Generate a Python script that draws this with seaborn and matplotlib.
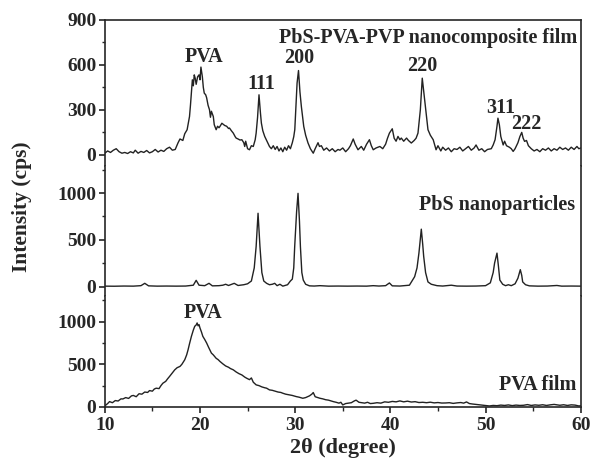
import numpy as np
import pandas as pd
import matplotlib
matplotlib.use("Agg")
import matplotlib.pyplot as plt
from matplotlib.ticker import MultipleLocator
import seaborn as sns

# DATA
comp_2theta = [10.0, 10.3, 10.6, 10.9, 11.2, 11.5, 11.8, 12.1, 12.4, 12.7, 13.0, 13.2, 13.5, 13.8, 14.1, 14.4,
               14.7, 15.0, 15.3, 15.6, 15.9, 16.2, 16.5, 16.8, 17.1, 17.4, 17.7, 17.9, 18.2, 18.4, 18.65, 18.8,
               18.9, 19.0, 19.2, 19.3, 19.4, 19.5, 19.6, 19.75, 19.9, 20.0, 20.1, 20.25, 20.35, 20.45, 20.6, 20.7,
               20.85, 21.0, 21.1, 21.2, 21.4, 21.5, 21.7, 21.85, 22.0, 22.1, 22.3, 22.4, 22.6, 22.8, 23.0, 23.1,
               23.3, 23.5, 23.7, 23.8, 24.0, 24.2, 24.4, 24.6, 24.7, 24.8, 25.0, 25.2, 25.4, 25.6, 25.8, 25.9,
               26.05, 26.2, 26.35, 26.45, 26.6, 26.8, 27.0, 27.3, 27.5, 27.7, 27.9, 28.1, 28.3, 28.5, 28.7, 28.9,
               29.1, 29.3, 29.5, 29.7, 29.85, 29.96, 30.1, 30.2, 30.35, 30.5, 30.65, 30.9, 31.1, 31.35, 31.6, 31.9,
               32.1, 32.4, 32.55, 32.75, 33.0, 33.3, 33.6, 33.9, 34.2, 34.5, 34.7, 35.0, 35.3, 35.6, 35.8, 36.1,
               36.3, 36.6, 36.95, 37.2, 37.5, 37.8, 38.0, 38.2, 38.5, 38.9, 39.2, 39.5, 39.7, 39.9, 40.2, 40.4,
               40.6, 40.8, 41.0, 41.15, 41.4, 41.7, 41.9, 42.2, 42.5, 42.7, 42.9, 43.15, 43.35, 43.6, 43.95, 44.2,
               44.5, 44.8, 45.0, 45.3, 45.5, 45.8, 46.1, 46.4, 46.7, 47.0, 47.3, 47.6, 47.9, 48.2, 48.5, 48.8,
               49.0, 49.3, 49.6, 49.9, 50.2, 50.6, 50.8, 51.0, 51.2, 51.3, 51.45, 51.6, 51.85, 52.0, 52.2, 52.5,
               52.7, 52.9, 53.1, 53.4, 53.6, 53.8, 53.95, 54.1, 54.3, 54.5, 54.8, 55.1, 55.4, 55.7, 56.0, 56.3,
               56.6, 56.9, 57.2, 57.5, 57.8, 58.1, 58.4, 58.7, 59.0, 59.3, 59.6, 59.8, 60.0]
comp_counts = [10, 25, 15, 30, 40, 20, 10, 15, 8, 20, 12, 30, 10, 22, 15, 28,
               12, 20, 35, 18, 30, 22, 40, 50, 30, 35, 80, 105, 95, 140, 167, 220,
               255, 330, 500, 460, 533, 510, 470, 520, 533, 500, 585, 520, 450, 411, 400, 380,
               330, 300, 250, 290, 255, 200, 167, 190, 180, 189, 210, 205, 195, 190, 175, 178,
               160, 144, 120, 111, 105, 98, 100, 80, 55, 90, 40, 33, 60, 55, 100, 144,
               250, 400, 280, 211, 160, 122, 95, 55, 40, 60, 35, 55, 25, 45, 20, 50,
               30, 60, 40, 80, 120, 167, 350, 478, 562, 420, 322, 189, 130, 78, 40, 10,
               40, 80, 55, 60, 30, 45, 25, 40, 20, 35, 30, 45, 20, 40, 60, 105,
               70, 33, 55, 30, 70, 100, 60, 33, 45, 55, 40, 70, 110, 144, 173, 110,
               90, 122, 100, 111, 90, 111, 95, 78, 95, 110, 144, 300, 511, 367, 167, 130,
               100, 33, 60, 25, 50, 30, 45, 20, 40, 35, 50, 25, 40, 55, 30, 45,
               65, 30, 40, 20, 35, 40, 65, 100, 190, 244, 200, 122, 65, 90, 60, 50,
               40, 22, 40, 80, 120, 149, 110, 89, 95, 60, 40, 25, 35, 20, 40, 30,
               45, 25, 40, 30, 50, 35, 45, 30, 50, 35, 55, 40, 45]

np_2theta = [10.0, 11.0, 12.0, 13.0, 13.8, 14.2, 14.6, 15.5, 16.5, 17.5, 18.5, 19.3, 19.6, 19.9, 20.5, 20.95,
             21.3, 22.0, 22.4, 22.7, 23.0, 23.6, 24.0, 24.6, 25.0, 25.4, 25.7, 25.9, 26.1, 26.3, 26.5, 26.7,
             27.0, 27.3, 27.6, 27.85, 28.1, 28.4, 28.7, 29.2, 29.5, 29.7, 29.85, 29.95, 30.15, 30.3, 30.45, 30.55,
             30.7, 30.85, 31.1, 31.5, 32.0, 32.6, 33.5, 34.5, 35.5, 36.5, 37.5, 38.2, 38.8, 39.5, 39.9, 40.2,
             41.0, 42.0, 42.55, 42.8, 43.0, 43.25, 43.4, 43.5, 43.7, 43.95, 44.3, 44.9, 45.5, 46.4, 47.0, 48.0,
             49.0, 50.0, 50.5, 50.8, 50.95, 51.2, 51.35, 51.5, 51.8, 52.1, 52.4, 52.7, 53.1, 53.4, 53.65, 53.8,
             53.9, 54.2, 54.6, 55.5, 56.5, 57.5, 58.0, 59.0, 60.0]
np_counts = [5, 4, 6, 5, 10, 35, 8, 5, 6, 5, 6, 15, 67, 15, 10, 35,
             8, 10, 15, 25, 12, 35, 12, 20, 30, 60, 200, 429, 784, 429, 150, 60,
             35, 20, 25, 35, 10, 25, 5, 20, 60, 80, 200, 429, 800, 997, 700, 429,
             150, 70, 25, 8, 6, 10, 5, 6, 5, 6, 5, 10, 6, 10, 39, 8,
             6, 15, 106, 200, 358, 614, 450, 323, 150, 50, 25, 10, 6, 15, 6, 5,
             6, 10, 40, 150, 252, 358, 220, 70, 25, 10, 20, 10, 30, 90, 181, 120,
             50, 20, 8, 5, 6, 12, 5, 6, 5]

pva_2theta = [10.0, 10.3, 10.5, 10.8, 11.1, 11.4, 11.7, 11.9, 12.2, 12.5, 12.8, 13.0, 13.3, 13.6, 13.9, 14.2,
              14.5, 14.7, 15.0, 15.2, 15.4, 15.7, 15.9, 16.1, 16.4, 16.6, 16.8, 17.1, 17.35, 17.6, 17.9, 18.1,
              18.4, 18.6, 18.75, 18.9, 19.1, 19.3, 19.45, 19.6, 19.7, 19.8, 19.9, 20.0, 20.15, 20.3, 20.5, 20.7,
              20.9, 21.2, 21.4, 21.7, 21.9, 22.1, 22.4, 22.7, 23.0, 23.2, 23.5, 23.8, 24.1, 24.4, 24.7, 24.9,
              25.2, 25.4, 25.6, 25.9, 26.2, 26.5, 26.8, 27.0, 27.3, 27.6, 27.9, 28.2, 28.5, 28.7, 29.0, 29.4,
              29.7, 30.1, 30.4, 30.8, 31.1, 31.5, 31.75, 31.9, 32.1, 32.4, 32.6, 32.9, 33.2, 33.5, 33.8, 34.0,
              34.3, 34.6, 34.8, 35.0, 35.3, 35.6, 35.9, 36.2, 36.4, 36.7, 37.0, 37.3, 37.6, 37.9, 38.2, 38.6,
              39.0, 39.4, 39.8, 40.2, 40.6, 41.0, 41.4, 41.8, 42.2, 42.6, 43.0, 43.4, 43.8, 44.2, 44.6, 45.0,
              45.4, 45.8, 46.2, 46.6, 47.0, 47.4, 47.7, 48.0, 48.3, 48.6, 49.0, 49.4, 49.8, 50.1, 50.4, 50.8,
              51.2, 51.6, 52.0, 52.4, 52.8, 53.2, 53.6, 54.0, 54.4, 54.8, 55.2, 55.6, 56.0, 56.4, 56.8, 57.2,
              57.4, 57.8, 58.2, 58.6, 59.0, 59.4, 59.8, 60.0]
pva_counts = [12, 40, 63, 50, 75, 70, 95, 94, 110, 100, 130, 135, 120, 155, 150, 175,
              170, 192, 185, 210, 220, 215, 250, 278, 300, 330, 357, 400, 435, 460, 475, 500,
              553, 610, 670, 740, 827, 900, 945, 960, 984, 950, 965, 925, 880, 827, 790, 749,
              700, 631, 610, 570, 555, 533, 505, 480, 465, 450, 435, 410, 390, 375, 350, 337,
              320, 340, 290, 259, 250, 235, 225, 220, 200, 195, 185, 175, 170, 161, 150, 141,
              135, 122, 115, 102, 110, 130, 150, 169, 120, 110, 102, 95, 85, 80, 70, 63,
              55, 45, 55, 24, 40, 45, 50, 70, 80, 55, 50, 45, 55, 40, 43, 50,
              45, 60, 55, 65, 60, 71, 60, 68, 58, 62, 52, 55, 50, 56, 48, 52,
              46, 47, 50, 42, 48, 52, 45, 59, 40, 35, 30, 25, 20, 15, 12, 18,
              15, 22, 18, 24, 16, 22, 18, 20, 28, 18, 24, 20, 26, 18, 25, 30,
              27, 20, 26, 18, 25, 22, 12, 14]

top_peaks = ["PVA", "111", "200", "220", "311", "222"]
top_peak_pos = [(20.4, 655), (26.45, 472), (30.4, 645), (43.4, 592), (51.6, 312), (54.3, 207)]

df_comp = pd.DataFrame({"two_theta": comp_2theta, "counts": comp_counts})
df_np = pd.DataFrame({"two_theta": np_2theta, "counts": np_counts})
df_pva = pd.DataFrame({"two_theta": pva_2theta, "counts": pva_counts})

# STYLE
sns.set_style("ticks")
plt.rcParams["font.family"] = ["Liberation Serif", "DejaVu Serif"]
plt.rcParams["font.weight"] = "bold"
plt.rcParams["axes.linewidth"] = 1.2

fig = plt.figure(figsize=(5.92, 4.63), dpi=100)
gs = fig.add_gridspec(3, 1, height_ratios=[146, 130, 111], hspace=0,
                      left=0.177, right=0.981, bottom=0.121, top=0.957)
ax1 = fig.add_subplot(gs[0])
ax2 = fig.add_subplot(gs[1], sharex=ax1)
ax3 = fig.add_subplot(gs[2], sharex=ax1)

line_kw = dict(x="two_theta", y="counts", color="#222222", linewidth=1.0, estimator=None, sort=False)
sns.lineplot(data=df_comp, ax=ax1, **line_kw)
sns.lineplot(data=df_np, ax=ax2, **line_kw)
sns.lineplot(data=df_pva, ax=ax3, **line_kw)

ax1.set_ylim(-75, 900)
ax2.set_ylim(-100, 1290)
ax3.set_ylim(0, 1300)
ax3.set_xlim(10, 60)

ax1.yaxis.set_major_locator(MultipleLocator(300))
ax1.yaxis.set_minor_locator(MultipleLocator(150))
for ax in (ax2, ax3):
    ax.yaxis.set_major_locator(MultipleLocator(500))
    ax.yaxis.set_minor_locator(MultipleLocator(250))
ax3.xaxis.set_major_locator(MultipleLocator(10))
ax3.xaxis.set_minor_locator(MultipleLocator(5))

ax1.spines["bottom"].set_visible(False)
ax2.spines["top"].set_visible(False)
ax2.spines["bottom"].set_visible(False)
ax3.spines["top"].set_visible(False)

for ax in (ax1, ax2, ax3):
    ax.set_xlabel("")
    ax.set_ylabel("")
    ax.tick_params(axis="y", which="major", direction="out", length=4, width=1.2, labelsize=14, pad=2)
    ax.tick_params(axis="y", which="minor", direction="out", length=2.5, width=1.0)
    for lbl in ax.get_yticklabels():
        lbl.set_fontweight("bold")
for ax in (ax1, ax2):
    ax.tick_params(axis="x", which="both", bottom=False, labelbottom=False)
ax3.tick_params(axis="x", which="major", direction="out", length=4, width=1.2, labelsize=14, pad=3)
ax3.tick_params(axis="x", which="minor", direction="out", length=3, width=1.0)
for lbl in ax3.get_xticklabels():
    lbl.set_fontweight("bold")

# ANNOTATIONS
for name, (px, py) in zip(top_peaks, top_peak_pos):
    ax1.text(px, py, name, ha="center", va="center", fontsize=14.5, fontweight="bold")
ax1.text(59.6, 780, "PbS-PVA-PVP nanocomposite film", ha="right", va="center", fontsize=14.5, fontweight="bold")
ax2.text(59.4, 872, "PbS nanoparticles", ha="right", va="center", fontsize=14.5, fontweight="bold")
ax3.text(20.3, 1106, "PVA", ha="center", va="center", fontsize=14.5, fontweight="bold")
ax3.text(59.5, 259, "PVA film", ha="right", va="center", fontsize=14.5, fontweight="bold")

fig.text(0.037, 0.553, "Intensity (cps)", rotation=90, ha="center", va="center", fontsize=15.5, fontweight="bold")
fig.text(0.58, 0.032, "2\u03b8 (degree)", ha="center", va="center", fontsize=16, fontweight="bold")

fig.savefig("out.png", dpi=100)
